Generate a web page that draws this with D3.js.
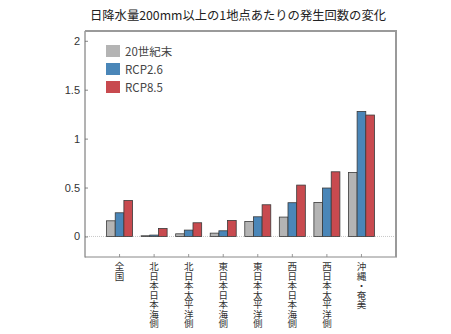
<!DOCTYPE html>
<html>
<head>
<meta charset="utf-8">
<script src="https://cdn.jsdelivr.net/npm/d3@7/dist/d3.min.js"></script>
<style>
  html, body { margin: 0; padding: 0; background: #fff; }
  svg { display: block; font-family: "Noto Sans CJK JP", "Noto Sans", sans-serif; }
</style>
</head>
<body>
<svg id="chart" width="451" height="334"></svg>
<script>
// Regions
const categories = ["全国", "北日本日本海側", "北日本太平洋側", "東日本日本海側",
                    "東日本太平洋側", "西日本日本海側", "西日本太平洋側", "沖縄・奄美"];
// Series (occurrences per station)
const seriesNames = ["20世紀末", "RCP2.6", "RCP8.5"];
const late20c = [0.16, 0.007, 0.027, 0.034, 0.153, 0.198, 0.348, 0.654];
const rcp26   = [0.242, 0.014, 0.065, 0.058, 0.201, 0.345, 0.495, 1.278];
const rcp85   = [0.368, 0.082, 0.14, 0.164, 0.324, 0.525, 0.661, 1.241];
const yTicks = [0, 0.5, 1, 1.5, 2];
const yTickLabels = ["0", "0.5", "1", "1.5", "2"];
const colors = ["#b4b4b4", "#4a86b8", "#c84a4f"];

const series = [late20c, rcp26, rcp85];

const svg = d3.select("#chart");
const plotL = 85, plotR = 396, plotT = 31, plotB = 257;

const x = d3.scaleBand().domain(categories).range([plotL, plotR])
  .paddingInner(0).paddingOuter(0.5);
const xs = d3.scaleBand().domain(seriesNames).range([-13, 13]);
const y = d3.scaleLinear().domain([-0.21, 2.1]).range([plotB, plotT]);

// Title
svg.append("text")
  .attr("x", 238).attr("y", 19.5)
  .attr("text-anchor", "middle")
  .attr("font-size", 12.3)
  .attr("fill", "#222")
  .text("日降水量200mm以上の1地点あたりの発生回数の変化");

// Zero reference line
svg.append("line")
  .attr("x1", plotL).attr("x2", plotR)
  .attr("y1", y(0)).attr("y2", y(0))
  .attr("stroke", "#c8c8c8").attr("stroke-width", 1)
  .attr("stroke-dasharray", "1,1");

// Bars
const groups = svg.append("g").selectAll("g")
  .data(categories)
  .join("g")
  .attr("transform", d => `translate(${x(d) + x.bandwidth() / 2},0)`);

groups.selectAll("rect")
  .data((d, i) => series.map((s, k) => ({ k, v: s[i] })))
  .join("rect")
  .attr("x", d => xs(seriesNames[d.k]))
  .attr("width", xs.bandwidth())
  .attr("y", d => y(d.v))
  .attr("height", d => y(0) - y(d.v))
  .attr("fill", d => colors[d.k])
  .attr("stroke", "#3a3a3a")
  .attr("stroke-width", 0.8);

// Y axis
const yAxis = d3.axisRight(y).tickValues(yTicks)
  .tickFormat((d, i) => yTickLabels[i]).tickSize(3).tickPadding(0);
const ya = svg.append("g").attr("transform", `translate(${plotL},0)`).call(yAxis);
ya.select(".domain").remove();
ya.selectAll(".tick line").attr("stroke", "#888");
ya.selectAll(".tick text")
  .attr("x", -5).attr("text-anchor", "end")
  .attr("font-size", 11).attr("fill", "#333")
  .attr("font-family", "Liberation Sans, Arial, sans-serif");

// X axis ticks
const xAxis = d3.axisTop(x).tickSize(3).tickFormat("");
const xa = svg.append("g").attr("transform", `translate(0,${plotB})`).call(xAxis);
xa.select(".domain").remove();
xa.selectAll(".tick line").attr("stroke", "#999");

// Vertical category labels (top-to-bottom writing)
svg.append("g").selectAll("text")
  .data(categories)
  .join("text")
  .attr("x", d => x(d) + x.bandwidth() / 2)
  .attr("y", 262)
  .style("writing-mode", "vertical-rl")
  .attr("font-size", 9.5)
  .attr("fill", "#333")
  .text(d => d);

// Frame
svg.append("line").attr("x1", plotL).attr("x2", plotL).attr("y1", plotT).attr("y2", plotB + 0.5)
  .attr("stroke", "#666").attr("stroke-width", 1);
svg.append("line").attr("x1", plotL).attr("x2", plotR + 1).attr("y1", plotB).attr("y2", plotB)
  .attr("stroke", "#888").attr("stroke-width", 1);
svg.append("line").attr("x1", plotL).attr("x2", plotR + 1).attr("y1", plotT).attr("y2", plotT)
  .attr("stroke", "#9a9a9a").attr("stroke-width", 2);
svg.append("line").attr("x1", plotR).attr("x2", plotR).attr("y1", plotT - 1).attr("y2", plotB)
  .attr("stroke", "#9a9a9a").attr("stroke-width", 2);

// Legend
const legend = svg.append("g").selectAll("g")
  .data(seriesNames)
  .join("g")
  .attr("transform", (d, i) => `translate(106,${45 + i * 18})`);
legend.append("rect")
  .attr("width", 14).attr("height", 12)
  .attr("fill", (d, i) => colors[i]);
legend.append("text")
  .attr("x", 19).attr("y", 10.5)
  .attr("font-size", 11.5).attr("fill", "#444")
  .text(d => d);
</script>
</body>
</html>
